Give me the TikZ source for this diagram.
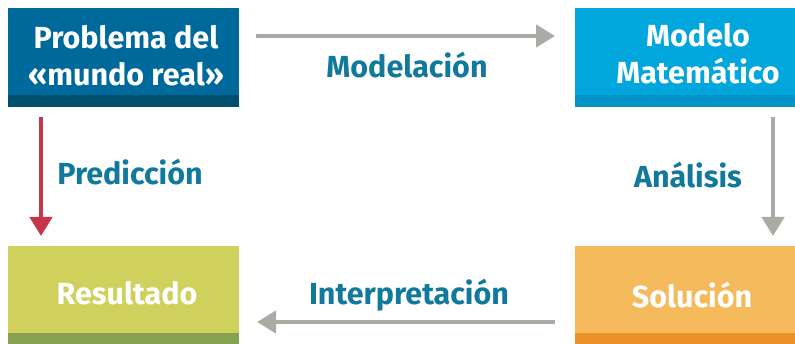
\documentclass[tikz,border=0pt]{standalone}
\usepackage{fontspec}
\setmainfont{Fira Sans}
\usetikzlibrary{arrows.meta}
\definecolor{dblue}{HTML}{00699C}
\definecolor{dbluestrip}{HTML}{004F6E}
\definecolor{lblue}{HTML}{00A6DC}
\definecolor{lbluestrip}{HTML}{0093C5}
\definecolor{ygreen}{HTML}{D0D15D}
\definecolor{ygreenstrip}{HTML}{84A24F}
\definecolor{orng}{HTML}{F5BA5C}
\definecolor{orngstrip}{HTML}{EA9226}
\definecolor{lbltxt}{HTML}{11799B}
\definecolor{garrow}{HTML}{ABABA6}
\definecolor{rarrow}{HTML}{C6364A}
\tikzset{
  x=1pt,y=-1pt,
  boxtext/.style={text=white,font=\bfseries\fontsize{30.5}{37}\selectfont,align=center,inner sep=0pt},
  lbl/.style={text=lbltxt,font=\bfseries\fontsize{30.5}{36}\selectfont,inner sep=0pt},
  arr/.style={line width=4.5pt,-{Triangle[length=19pt,width=22pt]}},
}
\begin{document}
\begin{tikzpicture}
\useasboundingbox (0,0) rectangle (795,344);
% boxes
\fill[dblue] (8,8) rectangle (239,107);
\fill[dbluestrip] (8,95) rectangle (239,107);
\fill[lblue] (575,8) rectangle (795,107);
\fill[lbluestrip] (575,95) rectangle (795,107);
\fill[ygreen] (8,246) rectangle (239,344);
\fill[ygreenstrip] (8,333) rectangle (239,344);
\fill[orng] (575,246) rectangle (795,344);
\fill[orngstrip] (575,333) rectangle (795,344);
% box texts
\node[boxtext] (prob) at (126,56) {Problema del\\«mundo real»};
\node[boxtext] (mod) at (698,54) {Modelo\\Matemático};
\node[boxtext] (res) at (127,293) {Resultado};
\node[boxtext] (sol) at (692,295) {Solución};
% arrow endpoints
\coordinate (a1s) at (256,36); \coordinate (a1e) at (555,36);
\coordinate (a2s) at (555,322); \coordinate (a2e) at (257,322);
\coordinate (a3s) at (41,117); \coordinate (a3e) at (41,236);
\coordinate (a4s) at (773,117); \coordinate (a4e) at (773,236);
\draw[arr,garrow] (a1s) -- (a1e);
\draw[arr,garrow] (a2s) -- (a2e);
\draw[arr,rarrow] (a3s) -- (a3e);
\draw[arr,garrow] (a4s) -- (a4e);
% labels
\node[lbl] (lmod) at (407,65) {Modelación};
\node[lbl] (lint) at (409,295) {Interpretación};
\node[lbl] (lpred) at (130,172) {Predicción};
\node[lbl] (lana) at (688,175) {Análisis};
\end{tikzpicture}
\end{document}
